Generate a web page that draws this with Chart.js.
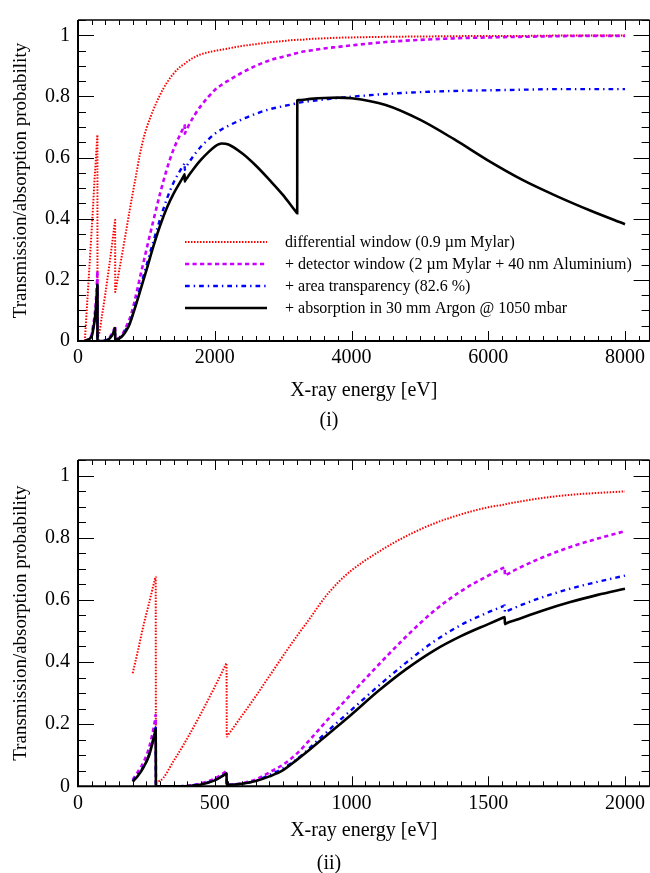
<!DOCTYPE html>
<html>
<head>
<meta charset="utf-8">
<script src="https://cdn.jsdelivr.net/npm/chart.js@4"></script>
<style>
  body { margin: 0; background: #fff; }
  #wrap { position: relative; width: 650px; height: 873px; font-family: 'Liberation Serif', serif; }
  canvas { position: absolute; left: 0; }
  .cap { position: absolute; width: 60px; left: 299px; text-align: center; font-size: 20px; line-height: 23px; }
</style>
</head>
<body>
<div id="wrap">
  <canvas id="overview" width="650" height="436" style="top:0"></canvas>
  <canvas id="detail" width="650" height="437" style="top:436px"></canvas>
  <div class="cap" style="top:408px">(i)</div>
  <div class="cap" style="top:851px">(ii)</div>
</div>
<script>
// X-ray energy in eV (pairs like 284/285 = absorption edges: C, O, Al, Ar)
const energy = [100, 200, 220, 240, 260, 280, 284, 285, 300, 350,
  400, 450, 500, 540, 543, 544, 550, 600, 650, 700,
  750, 800, 850, 900, 950, 1000, 1100, 1200, 1300, 1400,
  1500, 1555, 1560, 1561, 1565, 1600, 1700, 1800, 1900, 2000,
  2100, 2200, 2400, 2600, 2800, 3000, 3190, 3206, 3207, 3220,
  3400, 3600, 3800, 4000, 4500, 5000, 5500, 6000, 6500, 7000, 7500, 8000];

// differential window (0.9 um Mylar)
const diffWindow = [0, 0.364, 0.44, 0.52, 0.59, 0.662, 0.674, 0.016, 0.018, 0.082,
  0.155, 0.235, 0.32, 0.391, 0.396, 0.16, 0.167, 0.228, 0.29, 0.355,
  0.42, 0.483, 0.543, 0.605, 0.655, 0.695, 0.755, 0.805, 0.845, 0.875,
  0.898, 0.906, 0.907, 0.907, 0.908, 0.914, 0.928, 0.938, 0.944, 0.949,
  0.953, 0.957, 0.965, 0.971, 0.977, 0.981, 0.985, 0.985, 0.985, 0.985,
  0.988, 0.99, 0.992, 0.993, 0.995, 0.996, 0.997, 0.998, 0.998, 0.999, 0.999, 0.999];

// + detector window
const detWindow = [0, 0.021, 0.048, 0.078, 0.125, 0.205, 0.23, 0, 0, 0,
  0.002, 0.009, 0.025, 0.048, 0.051, 0.004, 0.005, 0.01, 0.022, 0.045,
  0.07, 0.105, 0.152, 0.202, 0.25, 0.298, 0.392, 0.482, 0.563, 0.628,
  0.678, 0.703, 0.705, 0.678, 0.68, 0.697, 0.737, 0.77, 0.797, 0.821,
  0.838, 0.852, 0.878, 0.9, 0.918, 0.93, 0.941, 0.942, 0.942, 0.943,
  0.95, 0.957, 0.962, 0.967, 0.978, 0.985, 0.99, 0.993, 0.995, 0.997, 0.998, 0.998];

// + area transparency
const areaTransp = [0, 0.017, 0.04, 0.064, 0.103, 0.17, 0.19, 0, 0, 0,
  0.002, 0.007, 0.021, 0.04, 0.042, 0.003, 0.004, 0.008, 0.018, 0.037,
  0.058, 0.087, 0.126, 0.167, 0.207, 0.246, 0.324, 0.398, 0.465, 0.519,
  0.56, 0.58, 0.582, 0.56, 0.562, 0.576, 0.609, 0.636, 0.658, 0.678,
  0.692, 0.704, 0.725, 0.743, 0.758, 0.768, 0.777, 0.778, 0.778, 0.779,
  0.785, 0.79, 0.795, 0.799, 0.808, 0.814, 0.818, 0.82, 0.822, 0.824, 0.824, 0.824];

// + absorption in 30 mm Argon
const argonAbs = [0, 0.015, 0.035, 0.062, 0.1, 0.168, 0.185, 0, 0, 0,
  0.001, 0.006, 0.019, 0.04, 0.042, 0.003, 0.004, 0.008, 0.017, 0.032,
  0.052, 0.085, 0.12, 0.157, 0.194, 0.231, 0.308, 0.377, 0.436, 0.483,
  0.522, 0.543, 0.545, 0.522, 0.524, 0.535, 0.566, 0.593, 0.616, 0.636,
  0.646, 0.643, 0.614, 0.574, 0.527, 0.477, 0.422, 0.418, 0.787, 0.788,
  0.792, 0.795, 0.796, 0.794, 0.772, 0.724, 0.66, 0.59, 0.527, 0.474, 0.426, 0.382];

const overviewTicks = [0, 2000, 4000, 6000, 8000];
const detailTicks = [0, 500, 1000, 1500, 2000];
const yTicks = [0, 0.2, 0.4, 0.6, 0.8, 1];

const seriesLabels = [
  'differential window (0.9 \u00b5m Mylar)',
  '+ detector window (2 \u00b5m Mylar + 40 nm Aluminium)',
  '+ area transparency (82.6 %)',
  '+ absorption in 30 mm Argon @ 1050 mbar'
];
const seriesValues = [diffWindow, detWindow, areaTransp, argonAbs];
const seriesStyle = [
  { color: '#ff0000', width: 2, dash: [1.5, 1.5] },
  { color: '#cc00ff', width: 2.6, dash: [4.2, 3.3] },
  { color: '#0000ff', width: 2.4, dash: [4.7, 4, 1.4, 4] },
  { color: '#000000', width: 2.6, dash: [] }
];

Chart.defaults.font.family = "'Liberation Serif', serif";
Chart.defaults.color = '#000';

function pts(ys, lo, hi) {
  const out = [];
  energy.forEach((e, i) => { if (e >= lo && e <= hi) out.push({ x: e, y: ys[i] }); });
  return out;
}

// frame + inward ROOT-style ticks on all four sides
const frameTicks = {
  id: 'frameTicks',
  afterDatasetsDraw(chart, args, o) {
    const { ctx, chartArea: a, scales: { x, y } } = chart;
    ctx.save();
    ctx.strokeStyle = '#000';
    const seg = (x1, y1, x2, y2) => { ctx.beginPath(); ctx.moveTo(x1, y1); ctx.lineTo(x2, y2); ctx.stroke(); };
    ctx.lineWidth = 1;
    for (let v = 0; v <= x.max + 1e-9; v += o.xMinor) {
      const px = Math.round(x.getPixelForValue(v)) + 0.5;
      const len = Math.abs(v / o.xMajor - Math.round(v / o.xMajor)) < 1e-6 ? 10 : 5;
      seg(px, a.bottom, px, a.bottom - len);
      seg(px, a.top, px, a.top + len);
    }
    for (let v = 0; v <= y.max + 1e-9; v += o.yMinor) {
      const py = Math.round(y.getPixelForValue(v)) + 0.5;
      const len = Math.abs(v / o.yMajor - Math.round(v / o.yMajor)) < 1e-6 ? 16 : 8;
      seg(a.left, py, a.left + len, py);
      seg(a.right, py, a.right - len, py);
    }
    ctx.lineWidth = 1.3;
    seg(a.left, a.top, a.right, a.top);
    seg(a.right, a.top, a.right, a.bottom);
    ctx.lineWidth = 2;
    seg(a.left, a.top, a.left, a.bottom);
    seg(a.left - 1, a.bottom, a.right, a.bottom);
    ctx.restore();
  }
};

// legend drawn inside the plot area
const insideLegend = {
  id: 'insideLegend',
  afterDraw(chart, args, o) {
    if (!o.show) return;
    const ctx = chart.ctx;
    ctx.save();
    ctx.font = '16px "Liberation Serif"';
    ctx.textBaseline = 'middle';
    ctx.fillStyle = '#000';
    chart.data.datasets.forEach((ds, i) => {
      const yy = o.y0 + i * o.dy;
      ctx.strokeStyle = ds.borderColor;
      ctx.lineWidth = ds.borderWidth;
      ctx.setLineDash(ds.borderDash);
      ctx.beginPath(); ctx.moveTo(o.x0, yy); ctx.lineTo(o.x1, yy); ctx.stroke();
      ctx.setLineDash([]);
      ctx.fillText(ds.label, o.xText, yy + 1);
    });
    ctx.restore();
  }
};

function makeChart(id, xMax, xTicks, xMinor, lo, hi, padTop, padBottom, xHeight, legend) {
  const datasets = seriesValues.map((vals, i) => ({
    label: seriesLabels[i],
    data: pts(vals, lo, hi),
    borderColor: seriesStyle[i].color,
    borderWidth: seriesStyle[i].width,
    borderDash: seriesStyle[i].dash,
    borderCapStyle: 'butt',
    pointRadius: 0,
    cubicInterpolationMode: 'monotone',
    fill: false,
    order: 3 - i
  }));
  return new Chart(document.getElementById(id), {
    type: 'line',
    data: { datasets },
    options: {
      responsive: false,
      animation: false,
      layout: { padding: { top: padTop, bottom: padBottom, left: 0, right: 0 } },
      plugins: {
        legend: { display: false },
        tooltip: { enabled: false },
        frameTicks: { xMajor: xTicks[1], xMinor: xMinor, yMajor: 0.2, yMinor: 0.05 },
        insideLegend: { show: legend, x0: 185, x1: 267, xText: 285, y0: 242, dy: 22 }
      },
      scales: {
        x: {
          type: 'linear', min: 0, max: xMax,
          grid: { display: false, drawTicks: false },
          border: { display: false },
          ticks: { maxRotation: 0, padding: 5, font: { size: 20 }, callback: v => String(v) },
          afterBuildTicks: s => { s.ticks = xTicks.map(v => ({ value: v })); },
          title: { display: true, text: 'X-ray energy [eV]', font: { size: 20 }, padding: 0 },
          afterFit: s => { s.height = xHeight; }
        },
        y: {
          min: 0, max: 1.05,
          grid: { display: false, drawTicks: false },
          border: { display: false },
          ticks: { padding: 8, font: { size: 20 }, callback: v => String(Math.round(v * 100) / 100) },
          afterBuildTicks: s => { s.ticks = yTicks.map(v => ({ value: v })); },
          title: { display: true, text: 'Transmission/absorption probability',
                   font: { size: 19 }, padding: { top: 10, bottom: 0 } },
          afterFit: s => { s.width = 78; }
        }
      }
    },
    plugins: [frameTicks, insideLegend]
  });
}

makeChart('overview', 8360, overviewTicks, 200, 0, 8000, 13, 33, 62, true);
makeChart('detail', 2090, detailTicks, 50, 200, 2000, 24, 30, 56.7, false);
</script>
</body>
</html>
